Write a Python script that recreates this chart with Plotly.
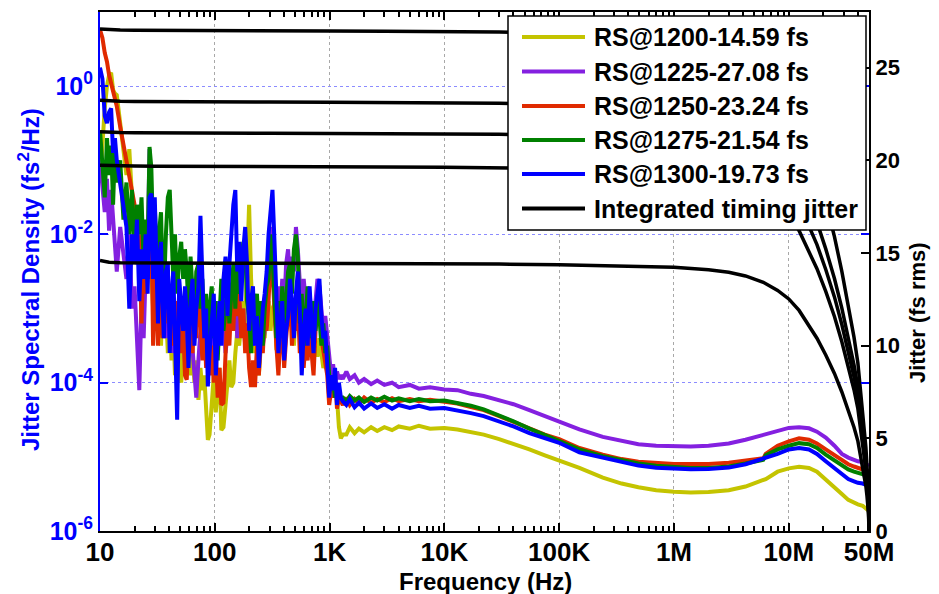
import plotly.graph_objects as go

# ---------------- data ----------------
# frequency grids (Hz)
F_LOW = [10, 10.5, 11, 11.5, 12, 12.5, 13, 13.5, 14, 15,
         16, 17, 18, 19, 20, 21, 22, 23, 24, 25,
         26, 27, 28, 29,
         30, 31, 32, 33, 34, 35, 36, 37.5, 39, 40.5,
         42, 43.5, 45, 47, 49, 51, 53, 55, 57, 59,
         61.5, 64, 66.5, 69, 72, 75, 78, 81, 84, 87,
         90, 94, 98, 102, 106, 110, 114, 119, 124, 129,
         134, 139, 145, 151, 157, 163, 170, 177, 184, 191,
         199, 207, 215, 224, 233, 242, 252, 262, 272, 283,
         294, 306, 318, 331, 344, 358, 372, 387, 402, 418,
         435, 452, 470, 489, 509, 529, 550, 572, 595, 619,
         644, 670, 697, 725, 754, 784, 815, 848, 882, 917,
         954, 992, 1032, 1073, 1116, 1160, 1206, 1254, 1304]
F_HIGH = [1400, 1500, 1650, 1800, 2000, 2300, 2600, 3000, 3500, 4000,
          5000, 6000, 7500, 1e4, 1.3e4, 1.7e4, 2.2e4, 3e4, 4e4, 5.5e4,
          7.5e4, 1e5, 1.5e5, 2.4e5, 3.5e5, 4.9e5, 7e5, 1e6, 1.4e6, 2e6,
          3e6, 4.2e6, 6e6, 6.3e6, 8e6, 1e7, 1.23e7, 1.5e7, 1.76e7, 2.1e7,
          2.5e7, 2.9e7, 3.3e7, 3.7e7, 4e7, 4.4e7, 4.7e7, 5e7]

# jitter spectral density, log10(fs^2/Hz)
PSD_1200_LOW = [-1.3, -0.7, -0.3, 0.0, 0.15, 0.18, -0.05, -0.1, -0.12, -0.5,
                -0.9, -1.2, -0.85, -1.5, -1.8, -2.3, -1.9, -2.6, -2.1, -2.8,
                -2.3, -1.9, -2.5, -3.0,
                -2.4, -3.0, -2.7, -3.2, -3.5, -2.8, -3.3, -3.0, -3.6, -3.1,
                -3.7, -3.2, -3.9, -3.4, -3.6, -4.0, -3.5, -3.8, -3.3, -3.7,
                -3.9, -3.6, -4.0, -3.7, -4.23, -3.8, -4.1, -3.9, -4.4, -4.77,
                -4.7, -4.3, -3.9, -4.4, -4.1, -3.8, -4.64, -4.6, -4.3, -3.9,
                -3.7, -4.06, -4.0, -3.6, -3.3, -3.5, -3.1, -2.9, -3.2, -2.4,
                -1.6, -2.6, -3.2, -3.6, -3.3, -3.9, -3.5, -3.2, -3.4, -3.0,
                -2.9, -3.3, -3.0, -2.93, -3.56, -3.2, -3.4, -2.9, -3.1, -3.3,
                -3.0, -2.8, -3.2, -3.5, -2.9, -3.1, -3.4, -3.6, -3.2, -3.5,
                -3.3, -3.6, -3.4, -3.7, -3.5, -3.65, -3.4, -3.6, -3.8, -3.7,
                -3.9, -4.0, -3.8, -4.0, -4.1, -4.2, -4.6, -4.75, -4.7]
PSD_1200_HIGH = [-4.7, -4.6, -4.68, -4.62, -4.67, -4.6, -4.65, -4.6, -4.64, -4.59,
                 -4.62, -4.58, -4.62, -4.61, -4.63, -4.66, -4.7, -4.76, -4.82, -4.9,
                 -4.98, -5.05, -5.15, -5.28, -5.36, -5.41, -5.45, -5.47, -5.48, -5.475,
                 -5.45, -5.40, -5.31, -5.3, -5.2, -5.155, -5.135, -5.15, -5.2, -5.3,
                 -5.4, -5.5, -5.58, -5.62, -5.64, -5.66, -5.69, -5.73]

PSD_1225_LOW = [-1.0, -1.3, -1.7, -1.25, -1.95, -1.4, -1.8, -2.1, -2.5, -1.9,
                -2.3, -2.6, -2.0, -3.0, -2.7, -3.3, -4.1, -2.9, -3.4, -2.5,
                -2.2, -0.85, -1.6, -2.7,
                -2.2, -2.8, -2.4, -3.0, -2.6, -3.3, -2.8, -3.4, -2.5, -3.0,
                -2.8, -3.6, -3.0, -3.2, -2.9, -3.4, -3.0, -3.7, -3.1, -3.5,
                -3.2, -3.6, -3.9, -4.2, -3.7, -3.3, -2.9, -3.5, -3.2, -3.7,
                -3.3, -3.8, -3.4, -3.0, -3.6, -3.2, -3.4, -3.1, -3.6, -3.38,
                -3.1, -2.8, -3.2, -2.7, -3.4, -2.9, -3.3, -3.0, -3.5, -3.2,
                -3.6, -3.3, -3.5, -3.2, -3.0, -3.4, -3.1, -3.5, -3.3, -2.8,
                -2.4, -1.9, -2.2, -2.8, -3.2, -2.7, -3.1, -2.6, -3.0, -2.4,
                -2.2, -2.7, -2.3, -2.5, -1.9, -2.2, -2.8, -3.1, -2.6, -2.9,
                -3.2, -2.8, -3.1, -3.4, -2.9, -2.6, -2.7, -3.0, -3.3, -3.1,
                -3.33, -3.6, -3.9, -3.75, -4.0, -3.85, -3.95, -3.9, -3.95]
PSD_1225_HIGH = [-3.85, -3.95, -3.9, -4.0, -3.95, -4.02, -3.97, -4.03, -4.0, -4.06,
                 -4.03, -4.08, -4.06, -4.09, -4.1, -4.15, -4.18, -4.23, -4.29, -4.37,
                 -4.45, -4.53, -4.63, -4.73, -4.79, -4.83, -4.85, -4.86, -4.86, -4.85,
                 -4.82, -4.77, -4.70, -4.69, -4.64, -4.61, -4.60, -4.615, -4.66, -4.74,
                 -4.85, -4.96, -5.01, -5.04, -5.06, -5.07, -5.09, -5.12]

PSD_1250_LOW = [0.76, 0.65, 0.45, 0.33, 0.15, 0.05, -0.05, -0.15, -0.27, -0.55,
                -0.78, -0.95, -1.2, -1.4, -1.6, -2.4, -2.0, -3.2, -2.2, -2.8,
                -2.1, -2.6, -1.7, -3.5,
                -2.5, -2.9, -3.5, -2.6, -3.1, -3.4, -2.7, -3.2, -2.8, -3.3,
                -2.7, -3.5, -2.9, -3.3, -2.8, -3.6, -3.2, -3.9, -3.96, -3.3,
                -3.0, -3.6, -3.1, -3.4, -2.6, -3.2, -3.7, -3.2, -3.8, -3.4,
                -3.9, -3.5, -4.0, -3.6, -4.2, -3.8, -4.3, -4.27, -3.5, -3.0,
                -3.5, -2.9, -3.3, -2.6, -3.1, -2.8, -3.4, -3.0, -3.6, -3.2,
                -3.8, -4.06, -3.7, -4.06, -3.5, -3.9, -3.4, -3.6, -3.1, -3.3,
                -2.9, -2.3, -2.5, -3.1, -3.5, -3.9, -3.4, -3.2, -3.8, -3.4,
                -3.0, -2.8, -3.5, -3.1, -3.3, -2.9, -3.6, -3.3, -3.8, -3.4,
                -3.7, -3.2, -3.6, -3.9, -3.3, -3.0, -2.8, -3.4, -3.6, -3.8,
                -3.9, -4.3, -4.1, -4.2, -3.9, -4.35, -4.2, -4.25, -4.3]
PSD_1250_HIGH = [-4.2, -4.3, -4.22, -4.28, -4.2, -4.27, -4.22, -4.26, -4.21, -4.25,
                 -4.22, -4.25, -4.23, -4.25, -4.28, -4.33, -4.37, -4.45, -4.53, -4.62,
                 -4.70, -4.76, -4.88, -4.97, -5.03, -5.065, -5.085, -5.095, -5.096, -5.095,
                 -5.08, -5.05, -5.02, -4.96, -4.85, -4.79, -4.75, -4.77, -4.82, -4.9,
                 -4.98, -5.05, -5.1, -5.13, -5.15, -5.17, -5.18, -5.2]

PSD_1275_LOW = [-0.6, -1.0, -1.5, -0.7, -1.2, -0.8, -1.6, -0.85, -1.3, -1.0,
                -1.8, -1.3, -2.0, -1.4, -2.3, -1.6, -2.0, -1.5, -2.4, -1.8,
                -2.2, -0.82, -1.1, -2.0,
                -1.6, -2.2, -2.6, -1.9, -1.7, -2.5, -2.8, -2.0, -1.5, -1.4,
                -2.2, -2.6, -2.0, -2.8, -2.3, -2.1, -2.6, -2.2, -2.5, -3.0,
                -2.3, -2.7, -3.2, -2.5, -2.4, -3.0, -2.6, -3.3, -2.8, -3.6,
                -3.0, -2.7, -3.4, -2.9, -3.7, -3.1, -2.6, -3.3, -2.9, -2.7,
                -3.2, -2.8, -2.4, -3.0, -2.3, -2.8, -2.4, -2.1, -2.2, -2.9,
                -3.1, -3.6, -2.9, -3.2, -2.8, -3.4, -2.9, -3.5, -3.0, -2.7,
                -2.6, -2.0, -2.3, -2.9, -3.4, -2.9, -3.3, -2.7, -3.2, -2.9,
                -2.5, -2.4, -2.8, -2.2, -2.0, -2.3, -3.2, -2.8, -3.5, -3.1,
                -2.7, -3.0, -3.4, -2.9, -3.3, -2.9, -3.1, -3.5, -3.2, -3.6,
                -3.5, -3.9, -4.1, -4.0, -4.2, -4.1, -4.15, -4.2, -4.2]
PSD_1275_HIGH = [-4.25, -4.18, -4.24, -4.2, -4.26, -4.2, -4.24, -4.19, -4.24, -4.21,
                 -4.25, -4.22, -4.25, -4.24, -4.27, -4.31, -4.36, -4.44, -4.52, -4.62,
                 -4.71, -4.78, -4.90, -4.99, -5.05, -5.09, -5.12, -5.14, -5.15, -5.15,
                 -5.13, -5.09, -5.04, -4.98, -4.9, -4.85, -4.815, -4.83, -4.88, -4.97,
                 -5.05, -5.12, -5.17, -5.2, -5.215, -5.23, -5.245, -5.26]

PSD_1300_LOW = [0.25, 0.1, -0.4, -0.5, -0.35, -0.3, -0.9, -0.7, -1.0, -1.3,
                -1.6, -1.9, -3.0, -2.0, -2.4, -1.8, -2.9, -2.2, -2.6, -2.0,
                -2.8, -1.5, -1.45, -2.6,
                -1.5, -2.6, -3.2, -2.3, -2.1, -2.9, -3.4, -2.5, -2.4, -3.6,
                -2.8, -2.5, -3.3, -4.5, -2.6, -2.9, -3.3, -2.7, -3.1, -3.8,
                -2.9, -2.6, -3.5, -3.0, -2.7, -1.75, -2.5, -3.4, -3.0, -4.05,
                -3.6, -3.2, -2.8, -3.9, -3.3, -2.9, -3.5, -2.6, -2.3, -3.1,
                -2.4, -2.0, -1.6, -1.4, -2.5, -2.1, -2.9, -2.2, -1.9, -2.4,
                -3.3, -2.9, -2.7, -3.5, -3.1, -3.8, -3.3, -3.0, -2.8, -2.5,
                -2.0, -1.6, -1.4, -2.1, -3.0, -3.6, -3.2, -2.9, -3.7, -3.3,
                -3.1, -2.6, -2.9, -3.4, -2.8, -2.5, -3.0, -3.9, -3.3, -3.0,
                -3.5, -2.7, -3.2, -3.6, -3.0, -2.8, -2.6, -3.1, -3.4, -3.3,
                -3.7, -4.2, -3.9, -4.1, -3.8, -4.3, -4.0, -4.2, -4.25]
PSD_1300_HIGH = [-4.3, -4.22, -4.33, -4.27, -4.35, -4.28, -4.34, -4.29, -4.35, -4.3,
                 -4.34, -4.31, -4.35, -4.34, -4.37, -4.41, -4.45, -4.52, -4.59, -4.68,
                 -4.75, -4.81, -4.94, -5.01, -5.07, -5.118, -5.146, -5.162, -5.168, -5.165,
                 -5.145, -5.1, -5.03, -5.02, -4.96, -4.9, -4.88, -4.9, -4.96, -5.06,
                 -5.15, -5.24, -5.3, -5.33, -5.35, -5.36, -5.37, -5.39]

# integrated timing jitter (fs rms), right axis
F_JIT = [10, 12, 15, 20, 30, 50, 100, 300, 1e3, 3e3,
         1e4, 3e4, 1e5, 3e5, 1e6, 2e6, 3e6, 4.2e6, 6e6, 8e6,
         1e7, 1.23e7, 1.5e7, 1.76e7, 2.1e7, 2.5e7, 2.9e7, 3.3e7, 3.7e7, 4e7,
         4.4e7, 4.7e7, 4.8e7, 4.9e7, 4.95e7, 5e7]
JIT_1200 = [14.59, 14.50, 14.47, 14.46, 14.455, 14.45, 14.45, 14.44, 14.44, 14.43,
            14.42, 14.40, 14.37, 14.32, 14.23, 14.10, 13.96, 13.76, 13.42, 12.98,
            12.52, 11.9, 11.1, 10.4, 9.5, 8.5, 7.5, 6.5, 5.6, 4.85,
            3.5, 2.4, 1.9, 1.35, 0.95, 0]
JIT_1225 = [27.08, 27.05, 27.03, 27.02, 27.01, 27.0, 26.99, 26.98, 26.97, 26.96,
            26.95, 26.92, 26.84, 26.75, 26.58, 26.34, 26.08, 25.70, 25.07, 24.25,
            23.39, 22.23, 20.73, 19.43, 17.75, 15.88, 14.01, 12.14, 10.46, 9.06,
            6.54, 4.48, 3.55, 2.52, 1.77, 0]
JIT_1250 = [23.24, 23.2, 23.18, 23.17, 23.16, 23.16, 23.15, 23.14, 23.13, 23.12,
            23.11, 23.08, 23.02, 22.94, 22.8, 22.59, 22.36, 22.04, 21.5, 20.79,
            20.06, 19.06, 17.78, 16.66, 15.22, 13.62, 12.02, 10.41, 8.97, 7.77,
            5.61, 3.84, 3.04, 2.16, 1.52, 0]
JIT_1275 = [21.54, 21.51, 21.5, 21.49, 21.48, 21.48, 21.47, 21.46, 21.45, 21.44,
            21.43, 21.40, 21.35, 21.27, 21.14, 20.95, 20.74, 20.44, 19.94, 19.28,
            18.6, 17.68, 16.49, 15.45, 14.11, 12.63, 11.14, 9.66, 8.32, 7.2,
            5.2, 3.57, 2.82, 2.01, 1.41, 0]
JIT_1300 = [19.73, 19.71, 19.70, 19.69, 19.68, 19.68, 19.67, 19.66, 19.65, 19.64,
            19.63, 19.61, 19.56, 19.49, 19.37, 19.19, 19.0, 18.73, 18.26, 17.67,
            17.04, 16.2, 15.11, 14.15, 12.93, 11.57, 10.21, 8.85, 7.62, 6.6,
            4.76, 3.27, 2.59, 1.84, 1.29, 0]

SERIES_NAMES = ["RS@1200-14.59 fs", "RS@1225-27.08 fs", "RS@1250-23.24 fs",
                "RS@1275-21.54 fs", "RS@1300-19.73 fs"]
SERIES_COLORS = ["#c4c400", "#8420e0", "#e02a00", "#008000", "#0000ff"]
PSD_LOW = [PSD_1200_LOW, PSD_1225_LOW, PSD_1250_LOW, PSD_1275_LOW, PSD_1300_LOW]
PSD_HIGH = [PSD_1200_HIGH, PSD_1225_HIGH, PSD_1250_HIGH, PSD_1275_HIGH, PSD_1300_HIGH]
JITTERS = [JIT_1200, JIT_1225, JIT_1250, JIT_1275, JIT_1300]
JITTER_NAME = "Integrated timing jitter"

X_TICKVALS = [10, 100, 1e3, 1e4, 1e5, 1e6, 1e7, 5e7]
X_TICKTEXT = ["10", "100", "1K", "10K", "100K", "1M", "10M", "50M"]
Y_TICKVALS = [1e-6, 1e-4, 1e-2, 1]
Y_TICKTEXT = ["10<sup>-6</sup>", "10<sup>-4</sup>", "10<sup>-2</sup>", "10<sup>0</sup>"]
Y2_TICKVALS = [0, 5, 10, 15, 20, 25]
X_TITLE = "Frequency (Hz)"
Y_TITLE = "Jitter Spectral Density (fs<sup>2</sup>/Hz)"
Y2_TITLE = "Jitter (fs rms)"

# ---------------- figure ----------------
FONT = "Liberation Sans, Arial, sans-serif"
NARROW = "Liberation Sans Narrow, Arial Narrow, Liberation Sans, sans-serif"

fig = go.Figure()
freq = F_LOW + F_HIGH
for name, color, lo, hi in zip(SERIES_NAMES, SERIES_COLORS, PSD_LOW, PSD_HIGH):
    vals = [10 ** v for v in lo + hi]
    fig.add_trace(go.Scatter(x=freq, y=vals, mode="lines", name=name,
                             line=dict(color=color, width=4), showlegend=False))
for jit in JITTERS:
    fig.add_trace(go.Scatter(x=F_JIT, y=jit, mode="lines", name=JITTER_NAME,
                             line=dict(color="black", width=3.5), yaxis="y2",
                             showlegend=False))

minor_vals = [m * 10 ** k for k in range(1, 8) for m in range(2, 10) if m * 10 ** k < 5e7]

W, H = 939, 594
ML, MR, MT, MB = 100, 70, 12, 63
PW, PH = W - ML - MR, H - MT - MB


def px(x):
    return (x - ML) / PW


def py(y):
    return (H - MB - y) / PH


fig.update_layout(
    width=W, height=H,
    margin=dict(l=ML, r=MR, t=MT, b=MB, pad=0, autoexpand=False),
    paper_bgcolor="white", plot_bgcolor="white",
    showlegend=False,
    xaxis=dict(
        type="log", range=[1, 7.69897], automargin=False,
        tickmode="array", tickvals=X_TICKVALS, ticktext=X_TICKTEXT,
        ticks="inside", ticklen=8, tickwidth=1.5, tickcolor="black",
        minor=dict(tickmode="array", tickvals=minor_vals, ticks="inside",
                   ticklen=5, tickwidth=1.5, tickcolor="black", showgrid=False),
        showline=True, linecolor="black", linewidth=2, mirror="ticks",
        showgrid=True, gridcolor="#a8a8a8", griddash="dot", gridwidth=1,
        zeroline=False, ticklabelstandoff=-3,
        tickfont=dict(family=NARROW, size=26, color="black", weight="bold"),
    ),
    yaxis=dict(
        type="log", range=[-6, 1], automargin=False,
        tickmode="array", tickvals=Y_TICKVALS, ticktext=Y_TICKTEXT,
        ticks="inside", ticklen=8, tickwidth=1.5, tickcolor="#0000ff",
        showline=True, linecolor="#0000ff", linewidth=2, mirror="ticks",
        showgrid=True, gridcolor="#8c8cff", griddash="dot", gridwidth=1,
        zeroline=False,
        tickfont=dict(family=FONT, size=25, color="#0000ff", weight="bold"),
    ),
    yaxis2=dict(
        overlaying="y", side="right", range=[0, 28], automargin=False,
        tickmode="array", tickvals=Y2_TICKVALS,
        ticks="inside", ticklen=8, tickwidth=1.5, tickcolor="black",
        showline=True, linecolor="black", linewidth=2,
        showgrid=False, zeroline=False,
        tickfont=dict(family=FONT, size=22, color="black", weight="bold"),
    ),
)

# ---- legend drawn as a box with line samples and labels ----
LEG_X0, LEG_X1, LEG_Y0, LEG_Y1 = 508, 866, 16, 230
ROW_Y = [37, 71.5, 106, 140, 174, 208.5]
SAMPLE_X0, SAMPLE_X1, TEXT_X = 522, 585, 592

shapes = [dict(type="rect", xref="paper", yref="paper", layer="above",
               x0=px(LEG_X0), x1=px(LEG_X1), y0=py(LEG_Y1), y1=py(LEG_Y0),
               fillcolor="white", line=dict(color="black", width=1.5))]
annotations = []
legend_items = list(zip(SERIES_NAMES, SERIES_COLORS)) + [(JITTER_NAME, "black")]
for (label, color), ry in zip(legend_items, ROW_Y):
    shapes.append(dict(type="line", xref="paper", yref="paper", layer="above",
                       x0=px(SAMPLE_X0), x1=px(SAMPLE_X1), y0=py(ry), y1=py(ry),
                       line=dict(color=color, width=4)))
    annotations.append(dict(xref="paper", yref="paper", x=px(TEXT_X), y=py(ry),
                            xanchor="left", yanchor="middle", showarrow=False,
                            text=label,
                            font=dict(family=FONT, size=25, color="black", weight="bold")))

# axis titles placed as in the reference
annotations.append(dict(xref="paper", yref="paper", x=px(485), y=py(581),
                        xanchor="center", yanchor="middle", showarrow=False,
                        text=X_TITLE,
                        font=dict(family=NARROW, size=24, color="black", weight="bold")))
annotations.append(dict(xref="paper", yref="paper", x=px(29), y=py(280),
                        xanchor="center", yanchor="middle", showarrow=False,
                        textangle=-90, text=Y_TITLE,
                        font=dict(family=FONT, size=24, color="#0000ff", weight="bold")))
annotations.append(dict(xref="paper", yref="paper", x=px(918), y=py(312),
                        xanchor="center", yanchor="middle", showarrow=False,
                        textangle=-90, text=Y2_TITLE,
                        font=dict(family=FONT, size=22, color="black", weight="bold")))
fig.update_layout(shapes=shapes, annotations=annotations)

fig.write_html("out.html")
